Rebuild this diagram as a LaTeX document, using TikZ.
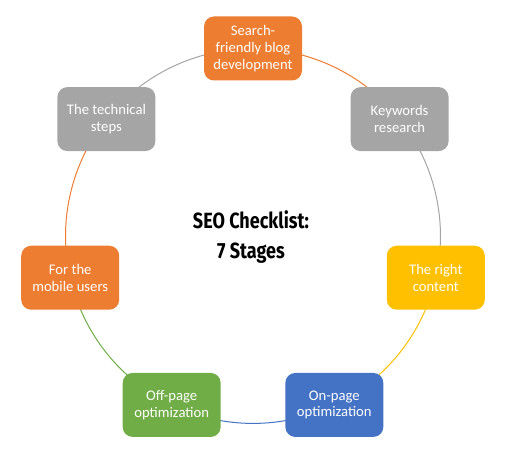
\documentclass[tikz,border=0pt]{standalone}
\usepackage{fontspec}
\setmainfont{Carlito}
\newfontfamily\titlefont[FakeStretch=0.82]{Fira Sans}
\usepackage{tikz}
\usetikzlibrary{positioning}
\usetikzlibrary{backgrounds}

\definecolor{sorange}{HTML}{ED7D31}
\definecolor{sgray}{HTML}{A5A5A5}
\definecolor{sgold}{HTML}{FFC000}
\definecolor{sblue}{HTML}{4472C4}
\definecolor{sgreen}{HTML}{70AD47}

\tikzset{
    stage/.style={rectangle, rounded corners=7.5pt, minimum width=73.5pt,
        minimum height=48pt, inner sep=2pt, align=center, text=white,
        font=\fontsize{11}{12.5}\selectfont},
    link/.style={line width=0.75pt, bend left=25.71, looseness=0.896}
}

\begin{document}
\begin{tikzpicture}[x=0.75pt, y=0.75pt]
    \useasboundingbox (-253,-220) rectangle (253,236);
    \node [stage, fill=sorange] (blog) at (90:187.5) {Search-\\friendly blog\\development};
    \node [stage, fill=sgray] (keywords) at (38.57:187.5) {Keywords\\research};
    \node [stage, fill=sgold] (content) at (-12.86:187.5) {The right\\content};
    \node [stage, fill=sblue] (onpage) at (-64.29:187.5) {On-page\\optimization};
    \node [stage, fill=sgreen] (offpage) at (-115.71:187.5) {Off-page\\optimization};
    \node [stage, fill=sorange] (mobile) at (-167.14:187.5) {For the\\mobile users};
    \node [stage, fill=sgray] (technical) at (141.43:187.5) {The technical\\steps};
    \node [align=center, font=\titlefont\bfseries\fontsize{16.5}{23}\selectfont] (title) at (-2,-1) {SEO Checklist:\\7 Stages};
    % arcs run centre to centre, hidden under the boxes
    \begin{scope}[on background layer]
    \path
        (blog.center) edge [link, sorange] (keywords.center)
        (keywords.center) edge [link, sgray] (content.center)
        (content.center) edge [link, sgold] (onpage.center)
        (onpage.center) edge [link, sblue] (offpage.center)
        (offpage.center) edge [link, sgreen] (mobile.center)
        (mobile.center) edge [link, sorange] (technical.center)
        (technical.center) edge [link, sgray] (blog.center);
    \end{scope}
\end{tikzpicture}
\end{document}
